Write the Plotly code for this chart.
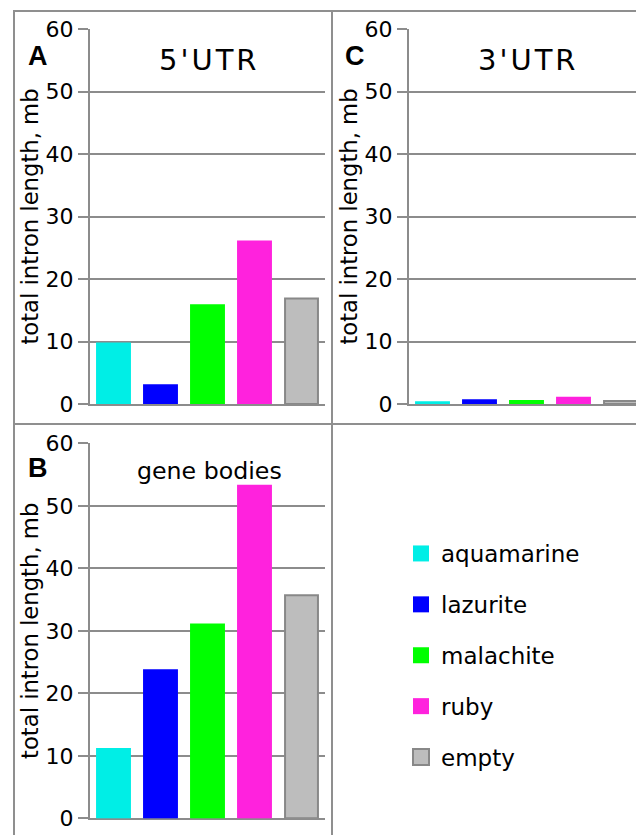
import plotly.graph_objects as go

W, H = 636, 835

categories = ["aquamarine", "lazurite", "malachite", "ruby", "empty"]
colors = ["#00EEE6", "#0000FF", "#00FF00", "#FF22DD", "#BDBDBD"]
line_colors = ["#00EEE6", "#0000FF", "#00FF00", "#FF22DD", "#888888"]

utr5_values = [9.7, 3.0, 15.8, 26.0, 16.9]
gene_body_values = [11.1, 23.7, 31.0, 53.2, 35.7]
utr3_values = [0.3, 0.6, 0.5, 1.0, 0.5]

y_ticks = [0, 10, 20, 30, 40, 50, 60]
y_title = "total intron length, mb"

FONT = "DejaVu Sans"
GRID = "#8C8C8C"

def px_x(x):
    return x / W

def px_y(y):
    return 1 - y / H

fig = go.Figure()

panels = [
    ("x", "y", utr5_values),
    ("x2", "y2", utr3_values),
    ("x3", "y3", gene_body_values),
]
for xa, ya, vals in panels:
    fig.add_trace(go.Bar(
        x=categories, y=vals, xaxis=xa, yaxis=ya,
        marker=dict(color=colors, line=dict(color=line_colors, width=2)),
        showlegend=False, hoverinfo="x+y",
    ))

# legend entries
for i, (c, col, lc) in enumerate(zip(categories, colors, line_colors)):
    fig.add_trace(go.Scatter(
        x=[None], y=[None], mode="markers", name=c,
        legendgroup=c,
        marker=dict(symbol="square", size=16, color=col,
                    line=dict(color=lc if c == "empty" else col, width=2 if c == "empty" else 0)),
        xaxis="x", yaxis="y",
    ))

yaxis_common = dict(
    range=[0, 60], tickvals=y_ticks, showgrid=True, gridcolor=GRID, gridwidth=2,
    showline=True, linecolor=GRID, linewidth=2, ticks="outside", ticklen=10,
    tickcolor=GRID, tickwidth=2, zeroline=False,
    tickfont=dict(family=FONT, size=22, color="#000"),
    title=dict(text=y_title, font=dict(family=FONT, size=22.7, color="#000"), standoff=1),
    layer="below traces", fixedrange=True, automargin=False,
)
xaxis_common = dict(
    showticklabels=False, showline=True, linecolor=GRID, linewidth=2,
    showgrid=False, zeroline=False, ticks="", layer="below traces", fixedrange=True,
    automargin=False,
)

ydomA = [px_y(404), px_y(29)]
ydomB = [px_y(818.3), px_y(443.3)]
xdomA = [px_x(90), px_x(325)]
xdomC = [px_x(409), 1.0]

fig.update_layout(
    width=W, height=H,
    margin=dict(l=0, r=0, t=0, b=0, pad=0, autoexpand=False),
    paper_bgcolor="white", plot_bgcolor="white",
    barmode="overlay", bargap=0.3,
    xaxis=dict(domain=xdomA, anchor="y", range=[-0.5, 4.5], **xaxis_common),
    yaxis=dict(domain=ydomA, anchor="x", **yaxis_common),
    xaxis2=dict(domain=xdomC, anchor="y2", range=[-0.5, -0.5 + (636 - 409) / 47], **xaxis_common),
    yaxis2=dict(domain=ydomA, anchor="x2", **yaxis_common),
    xaxis3=dict(domain=xdomA, anchor="y3", range=[-0.5, 4.5], **xaxis_common),
    yaxis3=dict(domain=ydomB, anchor="x3", **yaxis_common),
    legend=dict(
        x=px_x(401), y=px_y(532), xanchor="left", yanchor="top",
        font=dict(family=FONT, size=23, color="#000"),
        tracegroupgap=18, bgcolor="rgba(0,0,0,0)", itemclick=False,
    ),
    showlegend=True,
    font=dict(family=FONT),
)

# panel borders
border = dict(color="#8F8F8F", width=2)
fig.add_shape(type="rect", xref="paper", yref="paper",
              x0=px_x(14), x1=px_x(660), y0=px_y(860), y1=px_y(11), line=border)
fig.add_shape(type="line", xref="paper", yref="paper",
              x0=px_x(332), x1=px_x(332), y0=px_y(860), y1=px_y(11), line=border)
fig.add_shape(type="line", xref="paper", yref="paper",
              x0=px_x(14), x1=px_x(660), y0=px_y(424), y1=px_y(424), line=border)

def ann(text, x, y, size, bold=False, family=FONT):
    fig.add_annotation(
        text=f"<b>{text}</b>" if bold else text,
        x=px_x(x), y=px_y(y), xref="paper", yref="paper",
        xanchor="center", yanchor="middle", showarrow=False,
        font=dict(family=family, size=size, color="#000"),
    )

ann("A", 37.5, 56, 27, bold=True, family="Liberation Sans")
ann("C", 355, 56, 27, bold=True, family="Liberation Sans")
ann("B", 37.5, 468, 27, bold=True, family="Liberation Sans")
ann("<span style='letter-spacing:3px'>5'UTR</span>", 209, 60, 29)
ann("<span style='letter-spacing:3px'>3'UTR</span>", 528, 60, 29)
ann("gene bodies", 209.5, 471, 23.7)

fig.write_html("out.html")
